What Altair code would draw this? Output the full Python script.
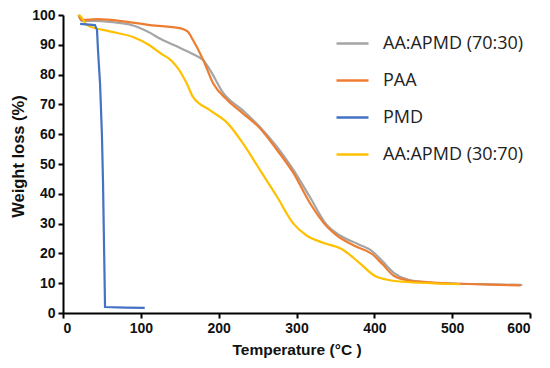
import altair as alt
import pandas as pd

series_names = ["AA:APMD (70:30)", "PAA", "PMD", "AA:APMD (30:70)"]
series_colors = ["#A5A5A5", "#ED7D31", "#4472C4", "#FFC000"]

gray_t = [20, 24, 40, 60, 90, 112, 125, 150, 170, 180, 189, 206, 231, 253, 275, 296, 317, 339, 356, 380, 397, 410, 425, 443, 470, 500, 550, 590]
gray_w = [100, 98, 98, 97.7, 96.5, 94, 92, 89, 86.5, 84.9, 81.5, 73.8, 68, 62.4, 55.7, 48, 39, 29.5, 26, 23, 20.8, 17.5, 13.5, 11.2, 10.2, 9.9, 9.6, 9.4]

paa_t = [20, 24, 44, 80, 112, 150, 160, 167, 180, 193, 211, 231, 253, 275, 296, 317, 339, 352, 375, 397, 410, 425, 443, 470, 500, 550, 588]
paa_w = [100, 98.3, 98.6, 97.8, 96.6, 95.6, 94.5, 91.6, 85, 77, 71.5, 67, 62, 54.7, 47, 37, 29, 26, 22.5, 19.8, 16.5, 12.5, 11, 10.3, 9.9, 9.5, 9.3]

pmd_t = [22, 41, 43.7, 45, 47.6, 50, 51.4, 54, 80, 105]
pmd_w = [97, 96.6, 95, 88, 77, 60, 44, 2, 1.8, 1.7]

y_t = [20, 22, 31, 60, 90, 110, 125, 140, 148, 159, 167, 189, 211, 231, 253, 275, 296, 313, 335, 358, 380, 401, 420, 443, 480, 510]
y_w = [100, 99.7, 96.6, 94.5, 92.6, 90, 87.2, 84.5, 82, 77, 72.5, 68, 63.8, 57, 48, 39, 30, 26, 23.5, 21.5, 17, 12.4, 11, 10.4, 9.9, 9.7]

rows = []
for name, ts, ws in [(series_names[0], gray_t, gray_w), (series_names[1], paa_t, paa_w),
                     (series_names[2], pmd_t, pmd_w), (series_names[3], y_t, y_w)]:
    for i, (t, w) in enumerate(zip(ts, ws)):
        rows.append({"T": t, "W": w, "S": name, "i": i})
df = pd.DataFrame(rows)

color = alt.Color("S:N", scale=alt.Scale(domain=series_names, range=series_colors),
                  legend=alt.Legend(title=None, orient="none", legendX=272, legendY=11,
                                    symbolType="stroke", symbolSize=1024, symbolStrokeWidth=2.5,
                                    labelFont="Open Sans", labelFontSize=18, labelColor="#222222",
                                    labelOffset=13, rowPadding=10, padding=0, labelLimit=300))

x = alt.X("T:Q", scale=alt.Scale(domain=[0, 600], nice=False),
          axis=alt.Axis(title="Temperature (°C )", values=[0, 100, 200, 300, 400, 500, 600],
                        titleFontSize=15.5, titlePadding=7))
y = alt.Y("W:Q", scale=alt.Scale(domain=[0, 100], nice=False),
          axis=alt.Axis(title="Weight loss (%)", values=list(range(0, 101, 10)),
                        titleFontSize=16.5, titlePadding=5, titleY=141))

base = alt.Chart(df).encode(x=x, y=y, color=color, order="i:Q", detail="S:N")
smooth = base.transform_filter(alt.datum.S != "PMD").mark_line(interpolate="monotone", strokeWidth=2.2)
sharp = base.transform_filter(alt.datum.S == "PMD").mark_line(strokeWidth=2.2)

chart = alt.layer(smooth, sharp).properties(
    width=467, height=298,
    autosize=alt.AutoSizeParams(type="none"),
    padding={"left": 55, "top": 7, "right": 10, "bottom": 55},
).configure_view(stroke=None).configure_axis(
    grid=False, domainColor="#000000", domainWidth=2, tickColor="#000000", tickSize=5, tickWidth=2,
    labelFont="Liberation Sans", labelFontWeight="bold", labelFontSize=14, labelColor="#111111",
    titleFont="Liberation Sans", titleFontWeight="bold", titleColor="#111111", labelPadding=3
)

chart.save("out.html", embed_options={"renderer": "svg", "actions": False})
